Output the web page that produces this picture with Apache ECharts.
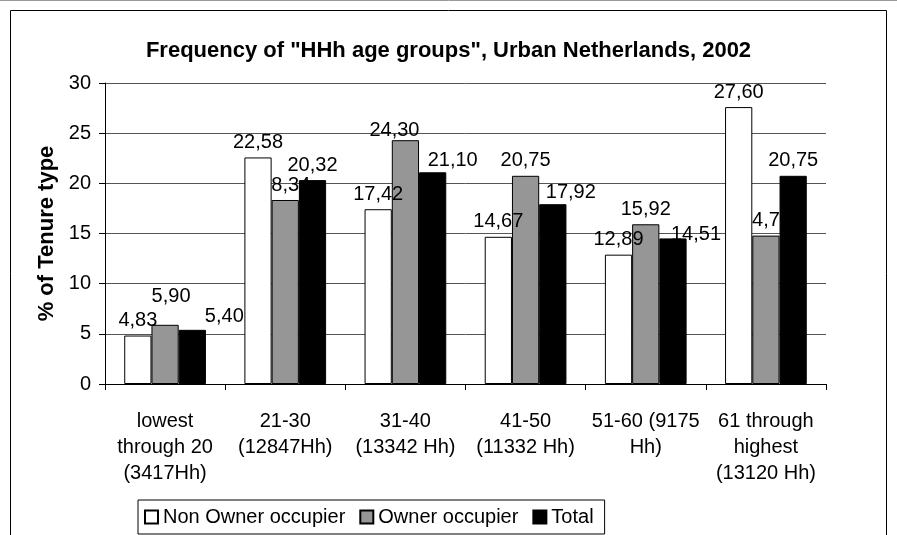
<!DOCTYPE html>
<html>
<head>
<meta charset="utf-8">
<script src="https://cdn.jsdelivr.net/npm/echarts@6/dist/echarts.min.js"></script>
<style>
  html, body { margin: 0; padding: 0; background: #fff; }
  #chart { width: 897px; height: 535px; }
</style>
</head>
<body>
<div id="chart"></div>
<script>
const categories = [
  "lowest\nthrough 20\n(3417Hh)",
  "21-30\n(12847Hh)",
  "31-40\n(13342 Hh)",
  "41-50\n(11332 Hh)",
  "51-60 (9175\nHh)",
  "61 through\nhighest\n(13120 Hh)"
];
const nonOwner = [4.83, 22.58, 17.42, 14.67, 12.89, 27.6];
const owner = [5.9, 18.34, 24.3, 20.75, 15.92, 14.79];
const total = [5.4, 20.32, 21.1, 17.92, 14.51, 20.75];

// some labels were dragged by hand in the original, nudge them the same way
const ownerShift = [[6, -13], [0, 0], [-11, 5], [0, 0], [0, 0], [0, 0]];
const totalShift = [[32, 2], [0, 0], [20, 3], [18, 3], [23, 11], [0, 0]];

const font = "'Liberation Sans', Arial, sans-serif";
const fmt = p => p.value.toFixed(2).replace(".", ",");

function withShift(values, shift) {
  return values.map((v, i) => ({
    value: v,
    label: shift ? { offset: shift[i] } : undefined
  }));
}

function barSeries(name, values, color, z, shift) {
  return {
    name: name,
    type: "bar",
    z: z,
    data: withShift(values, shift),
    barGap: "0%",
    barCategoryGap: "32%",
    itemStyle: { color: color, borderColor: "#000", borderWidth: 1 },
    label: {
      show: true,
      position: "top",
      distance: 5,
      formatter: fmt,
      color: "#000",
      fontFamily: font,
      fontSize: 20
    },
    emphasis: { disabled: true }
  };
}

const myChart = echarts.init(document.getElementById("chart"));

const option = {
  animation: false,
  backgroundColor: "#fff",
  graphic: [
    {
      type: "rect",
      silent: true,
      shape: { x: 10.5, y: 10.5, width: 876, height: 540 },
      style: { fill: "none", stroke: "#000", lineWidth: 1 }
    },
    {
      type: "line",
      silent: true,
      shape: { x1: 0, y1: 0.5, x2: 897, y2: 0.5 },
      style: { stroke: "#999", lineWidth: 1 }
    }
  ],
  title: {
    text: 'Frequency of "HHh age groups", Urban Netherlands, 2002',
    left: "center",
    top: 35,
    textStyle: { fontFamily: font, fontSize: 22, fontWeight: "bold", color: "#000" }
  },
  legend: {
    left: 138,
    top: 500,
    padding: [7, 11, 7, 6],
    itemGap: 14,
    itemWidth: 13,
    itemHeight: 13,
    icon: "rect",
    borderColor: "#000",
    borderWidth: 1,
    textStyle: { fontFamily: font, fontSize: 20, color: "#000" },
    data: ["Non Owner occupier", "Owner occupier", "Total"]
  },
  grid: { left: 105, right: 71, top: 83, bottom: 151 },
  xAxis: {
    type: "category",
    data: categories,
    axisLine: { lineStyle: { color: "#000" } },
    axisTick: { show: true, length: 6, lineStyle: { color: "#000" } },
    axisLabel: {
      interval: 0,
      margin: 24,
      color: "#000",
      fontFamily: font,
      fontSize: 20,
      lineHeight: 26
    }
  },
  yAxis: {
    type: "value",
    min: 0,
    max: 30,
    interval: 5,
    name: "% of Tenure type",
    nameLocation: "middle",
    nameGap: 46,
    nameTextStyle: { fontFamily: font, fontSize: 22, fontWeight: "bold", color: "#000" },
    axisLine: { show: true, lineStyle: { color: "#000" } },
    axisTick: { show: true, length: 6, lineStyle: { color: "#000" } },
    axisLabel: { margin: 14, color: "#000", fontFamily: font, fontSize: 20 },
    splitLine: { lineStyle: { color: "#555" } }
  },
  series: [
    barSeries("Non Owner occupier", nonOwner, "#fff", 4),
    barSeries("Owner occupier", owner, "#969696", 2, ownerShift),
    barSeries("Total", total, "#000", 3, totalShift)
  ]
};

option && myChart.setOption(option);
</script>
</body>
</html>
